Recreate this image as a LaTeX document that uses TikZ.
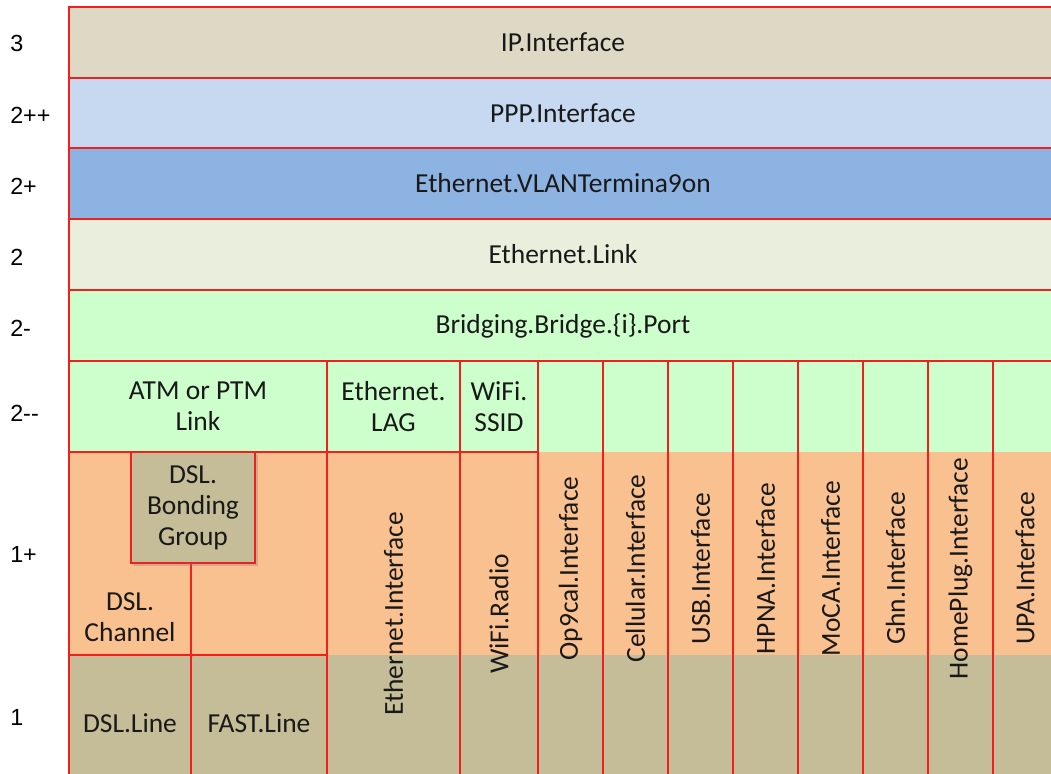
\documentclass[tikz,border=0pt]{standalone}
\usepackage{fontspec}
\setmainfont{Carlito}
\newfontfamily\lvlfont{Liberation Sans}
\usetikzlibrary{shadows}
\definecolor{ipc}{HTML}{DDD9C4}
\definecolor{pppc}{HTML}{C6D9F1}
\definecolor{vlanc}{HTML}{8DB3E2}
\definecolor{ethc}{HTML}{EAEEDD}
\definecolor{brc}{HTML}{CCFFCC}
\definecolor{phyc}{HTML}{F9C090}
\definecolor{linec}{HTML}{C4BD97}
\definecolor{redl}{HTML}{F21F1F}
\begin{document}
\begin{tikzpicture}[x=0.75pt, y=-0.75pt,
        every node/.style={font=\fontsize{20.6}{23.3}\selectfont, align=center, inner sep=0pt, text=black!90},
        cell/.style={draw=redl, line width=0.8pt},
        lvl/.style={anchor=west, font=\lvlfont\fontsize{17.5}{20}\selectfont, text=black}]
    \useasboundingbox (0,0) rectangle (1051,774);
    % background rows
    \fill[brc] (69,361) rectangle (1057,452);
    \fill[phyc] (69,452) rectangle (1057,655);
    \fill[linec] (69,655) rectangle (1057,776);
    % full width bands
    \draw[cell, fill=brc] (69,290) rectangle (1057,361) node[midway] (port) {Bridging.Bridge.\{i\}.Port};
    \draw[cell, fill=ethc] (69,219) rectangle (1057,290) node[midway] (link) {Ethernet.Link};
    \draw[cell, fill=vlanc] (69,148) rectangle (1057,219) node[midway] (vlan) {Ethernet.VLANTermina9on};
    \draw[cell, fill=pppc] (69,78) rectangle (1057,148) node[midway] (ppp) {PPP.Interface};
    \draw[cell, fill=ipc] (69,7) rectangle (1057,78) node[midway] (ip) {IP.Interface};
    % 2-- boxes
    \draw[cell] (69,361) rectangle (327,452) node[midway] (atm) {ATM or PTM\\Link};
    \draw[cell] (327,361) rectangle (460,452) node[midway] (lag) {Ethernet.\\LAG};
    \draw[cell] (460,361) rectangle (538,452) node[midway] (ssid) {WiFi.\\SSID};
    \draw[cell] (327,452) rectangle (460,776) node[midway, rotate=90] (ethif) {Ethernet.Interface};
    \draw[cell] (460,452) rectangle (538,776) node[midway, rotate=90] (radio) {WiFi.Radio};
    % interface columns
    \foreach \a/\b/\t in {538/603/Op9cal, 603/668/Cellular, 668/733/USB, 733/798/HPNA,
            798/863/MoCA, 863/928/Ghn, 928/993/HomePlug, 993/1057/UPA}
        \draw[cell] (\a,361) rectangle (\b,776) node[midway, rotate=90] (\t) {\t.Interface};
    % DSL side
    \draw[cell] (69,452) rectangle (191,776);
    \draw[cell] (191,655) rectangle (327,776);
    \draw[redl, line width=1.6pt] (69,655) -- (191,655);
    \node (chan) at (130,617) {DSL.\\Channel};
    \node (dsl) at (130,723) {DSL.Line};
    \node (fast) at (259,723) {FAST.Line};
    \draw[cell, line width=1.1pt, fill=linec, drop shadow={shadow xshift=2pt, shadow yshift=-2pt, opacity=.35}]
        (131,452) rectangle (255,563) node[midway] (bond) {DSL.\\Bonding\\Group};
    % level labels
    \node[lvl] (l3) at (10,43) {3};
    \node[lvl] (l2pp) at (10,115) {2++};
    \node[lvl] (l2p) at (10,186) {2+};
    \node[lvl] (l2) at (10,257) {2};
    \node[lvl] (l2m) at (10,328) {2-};
    \node[lvl] (l2mm) at (10,413) {2--};
    \node[lvl] (l1p) at (10,554) {1+};
    \node[lvl] (l1) at (10,717) {1};
\end{tikzpicture}
\end{document}
